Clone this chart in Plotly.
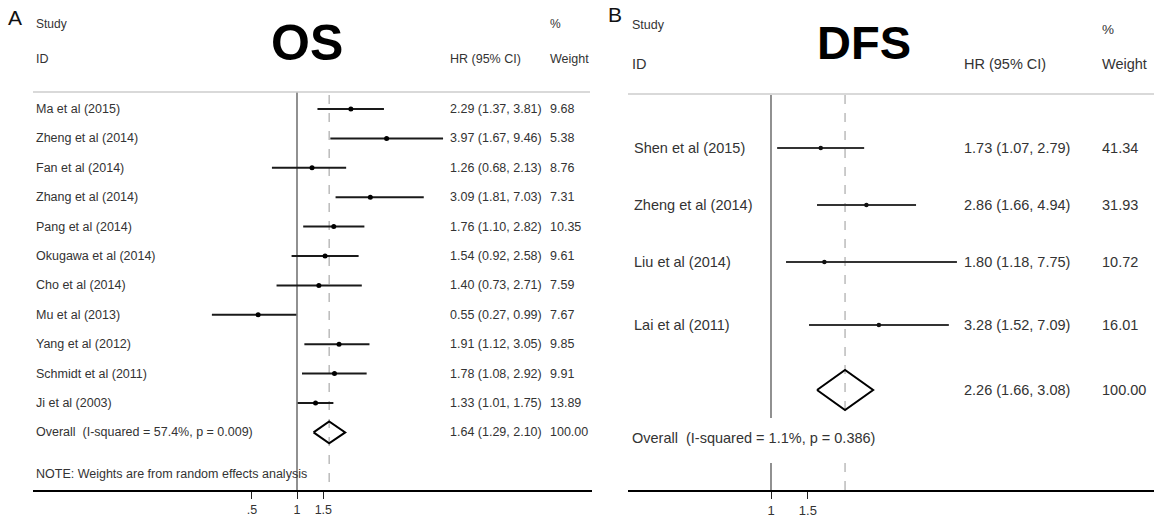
import plotly.graph_objects as go
import math

# ---------------- data ----------------
os_studies = ["Ma et al (2015)", "Zheng et al (2014)", "Fan et al (2014)", "Zhang et al (2014)",
              "Pang et al (2014)", "Okugawa et al (2014)", "Cho et al (2014)", "Mu et al (2013)",
              "Yang et al (2012)", "Schmidt et al (2011)", "Ji et al (2003)"]
os_hr = [2.29, 3.97, 1.26, 3.09, 1.76, 1.54, 1.40, 0.55, 1.91, 1.78, 1.33]
os_lo = [1.37, 1.67, 0.68, 1.81, 1.10, 0.92, 0.73, 0.27, 1.12, 1.08, 1.01]
os_hi = [3.81, 9.46, 2.13, 7.03, 2.82, 2.58, 2.71, 0.99, 3.05, 2.92, 1.75]
os_weight = [9.68, 5.38, 8.76, 7.31, 10.35, 9.61, 7.59, 7.67, 9.85, 9.91, 13.89]
os_overall = [1.64, 1.29, 2.10]
os_overall_weight = 100.00
os_overall_label = "Overall  (I-squared = 57.4%, p = 0.009)"
os_note = "NOTE: Weights are from random effects analysis"
os_tickvals = [0.5, 1, 1.5]
os_ticktext = [".5", "1", "1.5"]

dfs_studies = ["Shen et al (2015)", "Zheng et al (2014)", "Liu et al (2014)", "Lai et al (2011)"]
dfs_hr = [1.73, 2.86, 1.80, 3.28]
dfs_lo = [1.07, 1.66, 1.18, 1.52]
dfs_hi = [2.79, 4.94, 7.75, 7.09]
dfs_weight = [41.34, 31.93, 10.72, 16.01]
dfs_overall = [2.26, 1.66, 3.08]
dfs_overall_weight = 100.00
dfs_overall_label = "Overall  (I-squared = 1.1%, p = 0.386)"
dfs_tickvals = [1, 1.5]
dfs_ticktext = ["1", "1.5"]

# ---------------- layout helpers ----------------
W, H = 1154, 521
FONT = "Liberation Sans, Arial, sans-serif"
TXT = "#333333"

def px(x):
    return x / W

# left panel scale: value 1 at pixel 297, 65 px per ln unit
L_ONE, L_SLOPE = 297, 65 * math.log(10)
L_X0, L_X1 = 33, 592
# right panel scale: value 1 at pixel 771, 90.8 px per ln unit
R_ONE, R_SLOPE = 771, 90.8 * math.log(10)
R_X0, R_X1 = 628, 1154

left_rows = [109 + 29.4 * i for i in range(len(os_studies))]
left_overall_row = 109 + 29.4 * len(os_studies)
right_rows = [148, 205, 262, 325]
right_overall_row = 390

fig = go.Figure()

# ---- OS CI lines ----
xs, ys = [], []
for lo, hi, r in zip(os_lo, os_hi, left_rows):
    xs += [lo, hi, None]
    ys += [r, r, None]
fig.add_trace(go.Scatter(x=xs, y=ys, mode="lines", line=dict(color="#1a1a1a", width=2),
                         xaxis="x", yaxis="y", hoverinfo="skip"))
fig.add_trace(go.Scatter(x=os_hr, y=left_rows, mode="markers",
                         marker=dict(color="black", size=5), xaxis="x", yaxis="y"))
e, lo, hi = os_overall
h = 11
fig.add_trace(go.Scatter(x=[lo, e, hi, e, lo],
                         y=[left_overall_row, left_overall_row - h, left_overall_row,
                            left_overall_row + h, left_overall_row],
                         mode="lines", line=dict(color="black", width=2), xaxis="x", yaxis="y"))

# ---- DFS CI lines ----
xs, ys = [], []
for lo, hi, r in zip(dfs_lo, dfs_hi, right_rows):
    xs += [lo, hi, None]
    ys += [r, r, None]
fig.add_trace(go.Scatter(x=xs, y=ys, mode="lines", line=dict(color="#333333", width=2),
                         xaxis="x2", yaxis="y", hoverinfo="skip"))
fig.add_trace(go.Scatter(x=dfs_hr, y=right_rows, mode="markers",
                         marker=dict(color="#111111", size=4.5), xaxis="x2", yaxis="y"))
e, lo, hi = dfs_overall
h = 20
fig.add_trace(go.Scatter(x=[lo, e, hi, e, lo],
                         y=[right_overall_row, right_overall_row - h, right_overall_row,
                            right_overall_row + h, right_overall_row],
                         mode="lines", line=dict(color="black", width=2), xaxis="x2", yaxis="y"))

shapes = []
# top gray lines
shapes.append(dict(type="line", xref="paper", yref="y", x0=px(33), x1=px(590), y0=92, y1=92,
                   line=dict(color="#cccccc", width=1.5)))
shapes.append(dict(type="line", xref="paper", yref="y", x0=px(628), x1=1, y0=94, y1=94,
                   line=dict(color="#cccccc", width=1.5)))
# left reference lines
shapes.append(dict(type="line", xref="x", yref="y", x0=1, x1=1, y0=92, y1=490,
                   line=dict(color="#555555", width=1.3), layer="below"))
shapes.append(dict(type="line", xref="x", yref="y", x0=os_overall[0], x1=os_overall[0], y0=95, y1=490,
                   line=dict(color="#aaaaaa", width=1.2, dash="dash"), layer="below"))
# right reference lines (interrupted by the overall label)
for y0, y1 in [(95, 418), (463, 490)]:
    shapes.append(dict(type="line", xref="x2", yref="y", x0=1, x1=1, y0=y0, y1=y1,
                       line=dict(color="#555555", width=1.3), layer="below"))
    shapes.append(dict(type="line", xref="x2", yref="y", x0=dfs_overall[0], x1=dfs_overall[0],
                       y0=y0, y1=y1, line=dict(color="#aaaaaa", width=1.2, dash="dash"), layer="below"))

ann = []
def text(x, y, s, size, bold=False, anchor="left", color=TXT):
    ann.append(dict(xref="paper", yref="y", x=px(x), y=y, text=("<b>%s</b>" % s) if bold else s,
                    showarrow=False, xanchor=anchor, yanchor="middle",
                    font=dict(family=FONT, size=size, color=color)))

# ---- left header ----
LS = 12.5
text(6, 17, "A", 21, color="#111111")
text(34, 24, "Study", 12)
text(34, 59, "ID", LS)
text(307, 43, "OS", 50, bold=True, anchor="center", color="#000000")
text(448, 59, "HR (95% CI)", LS)
text(548, 24, "%", 12)
text(548, 59, "Weight", LS)

for name, hr, lo, hi, w, r in zip(os_studies, os_hr, os_lo, os_hi, os_weight, left_rows):
    text(34, r, name, LS)
    text(448, r, "%.2f (%.2f, %.2f)" % (hr, lo, hi), LS)
    text(548, r, "%.2f" % w, LS)
text(34, left_overall_row, os_overall_label, LS)
text(448, left_overall_row, "%.2f (%.2f, %.2f)" % tuple(os_overall), LS)
text(548, left_overall_row, "%.2f" % os_overall_weight, LS)
text(34, 474, os_note, LS)

# ---- right header ----
RS = 14.5
text(606, 14, "B", 21, color="#111111")
text(630, 25, "Study", 12.5)
text(630, 64, "ID", RS)
text(864, 42, "DFS", 47, bold=True, anchor="center", color="#000000")
text(962, 64, "HR (95% CI)", RS)
text(1100, 29, "%", 13.5)
text(1100, 64, "Weight", RS)

for name, hr, lo, hi, w, r in zip(dfs_studies, dfs_hr, dfs_lo, dfs_hi, dfs_weight, right_rows):
    text(632, r, name, RS)
    text(962, r, "%.2f (%.2f, %.2f)" % (hr, lo, hi), RS)
    text(1100, r, "%.2f" % w, RS)
text(962, right_overall_row, "%.2f (%.2f, %.2f)" % tuple(dfs_overall), RS)
text(1100, right_overall_row, "%.2f" % dfs_overall_weight, RS)
ann.append(dict(xref="paper", yref="y", x=px(630), y=438, text=dfs_overall_label, showarrow=False,
                xanchor="left", yanchor="middle", bgcolor="white",
                font=dict(family=FONT, size=RS, color=TXT)))

axis_common = dict(type="log", showgrid=False, zeroline=False, showline=True, linecolor="black",
                   linewidth=2, ticks="outside", ticklen=7, tickwidth=1.3, tickcolor="#222222",
                   anchor="y", fixedrange=True)

fig.update_layout(
    width=W, height=H, margin=dict(l=0, r=0, t=0, b=0),
    paper_bgcolor="white", plot_bgcolor="white", showlegend=False,
    xaxis=dict(domain=[px(L_X0), px(L_X1)],
               range=[(L_X0 - L_ONE) / L_SLOPE, (L_X1 - L_ONE) / L_SLOPE],
               tickvals=os_tickvals, ticktext=os_ticktext,
               tickfont=dict(family=FONT, size=12.5, color=TXT), **axis_common),
    xaxis2=dict(domain=[px(R_X0), 1],
                range=[(R_X0 - R_ONE) / R_SLOPE, (R_X1 - R_ONE) / R_SLOPE],
                tickvals=dfs_tickvals, ticktext=dfs_ticktext,
                tickfont=dict(family=FONT, size=13, color=TXT), **axis_common),
    yaxis=dict(domain=[31 / H, 1], range=[490, 0], visible=False, fixedrange=True),
    shapes=shapes, annotations=ann,
)

fig.write_html("out.html", config={"displayModeBar": False},
               post_script="document.body.style.margin='0';document.body.style.overflow='hidden';")
